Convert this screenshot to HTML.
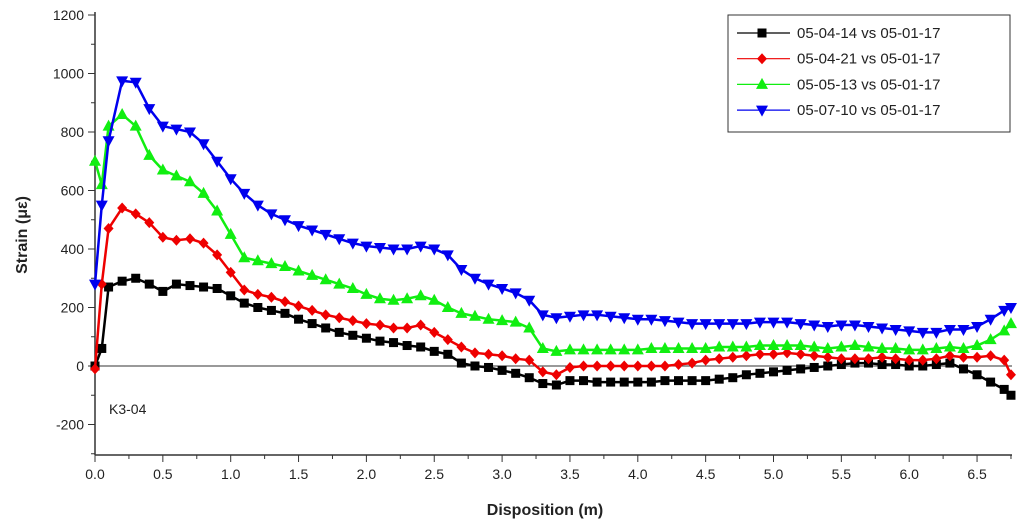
<!DOCTYPE html>
<html><head><meta charset="utf-8"><style>
body{margin:0;background:#fff;}
svg{display:block;font-family:"Liberation Sans",sans-serif;}
</style></head><body>
<svg id="chart" width="1024" height="526" viewBox="0 0 1024 526"></svg>
<script>
const xs=[0,0.05];for(let i=1;i<=67;i++)xs.push(+(i/10).toFixed(1));xs.push(6.75);
const black=[0,60,270,290,300,280,255,280,275,270,265,240,215,200,190,180,160,145,130,115,105,95,85,80,70,65,50,40,10,0,-5,-15,-25,-40,-60,-65,-50,-50,-55,-55,-55,-55,-55,-50,-50,-50,-50,-45,-40,-30,-25,-20,-15,-10,-5,0,5,10,10,5,5,0,0,5,10,-10,-30,-55,-80,-100];
const red=[-10,280,470,540,520,490,440,430,435,420,380,320,260,245,235,220,205,190,175,165,155,145,140,130,130,140,115,90,65,45,40,35,25,20,-20,-30,-5,0,0,0,0,0,0,0,5,10,20,25,30,35,40,40,45,40,35,30,25,25,25,30,25,20,20,25,35,30,30,35,20,-30];
const green=[700,620,820,860,820,720,670,650,630,590,530,450,370,360,350,340,325,310,295,280,265,245,230,225,230,240,225,200,180,170,160,155,150,130,60,50,55,55,55,55,55,55,60,60,60,60,60,65,65,65,70,70,70,70,65,60,65,70,65,60,60,55,55,60,65,60,70,90,120,145];
const blue=[280,550,770,975,970,880,820,810,800,760,700,640,590,550,520,500,480,465,450,435,420,410,405,400,400,410,400,380,330,300,280,265,250,225,175,165,170,175,175,170,165,160,160,155,150,145,145,145,145,145,150,150,150,145,140,135,140,140,135,130,125,120,115,115,125,125,135,160,190,200];
const xTicks=[0,0.5,1,1.5,2,2.5,3,3.5,4,4.5,5,5.5,6,6.5];
const yTicks=[-200,0,200,400,600,800,1000,1200];
const labels=["05-04-14 vs 05-01-17","05-04-21 vs 05-01-17","05-05-13 vs 05-01-17","05-07-10 vs 05-01-17"];
const X=v=>95+v*135.7, Y=v=>366-v*0.2925;
const svg=document.getElementById('chart');const NS='http://www.w3.org/2000/svg';
function mk(t,a,p){const e=document.createElementNS(NS,t);for(const k in a)e.setAttribute(k,a[k]);(p||svg).appendChild(e);return e;}
let g=mk('g',{});


mk('line',{x1:95,y1:12,x2:95,y2:455,stroke:'#333','stroke-width':1.5},g);
mk('line',{x1:95,y1:455,x2:1012,y2:455,stroke:'#333','stroke-width':1.5},g);
mk('line',{x1:95,y1:Y(0),x2:1012,y2:Y(0),stroke:'#333','stroke-width':1},g);
for(let v=-300;v<=1200;v+=100){mk('line',{x1:v%200==0?88:91,y1:Y(v),x2:95,y2:Y(v),stroke:'#333'},g);}
yTicks.forEach(v=>{const t=mk('text',{x:84,y:Y(v)+5,'text-anchor':'end','font-size':14,fill:'#222'},g);t.textContent=v;
});
for(let v=0;v<=6.75;v+=0.25){mk('line',{x1:X(v),y1:455,x2:X(v),y2:Math.abs(v*2-Math.round(v*2))<1e-6?462:459,stroke:'#333'},g);}
xTicks.forEach(v=>{const t=mk('text',{x:X(v),y:479,'text-anchor':'middle','font-size':14,fill:'#222'},g);t.textContent=v.toFixed(1);
});
let t=mk('text',{x:545,y:515,'text-anchor':'middle','font-size':16,'font-weight':'bold',fill:'#222'});t.textContent='Disposition (m)';

t=mk('text',{x:0,y:0,transform:'translate(27,235) rotate(-90)','text-anchor':'middle','font-size':16,'font-weight':'bold',fill:'#222'});t.textContent='Strain (με)';

t=mk('text',{x:109,y:414,'font-size':14,fill:'#222'});t.textContent='K3-04';

function marker(type,cx,cy,col,p){
 if(type==0)return mk('rect',{x:cx-4.5,y:cy-4.5,width:9,height:9,fill:col},p);
 if(type==1)return mk('polygon',{points:`${cx},${cy-5.5} ${cx+5},${cy} ${cx},${cy+5.5} ${cx-5},${cy}`,fill:col},p);
 if(type==2)return mk('polygon',{points:`${cx},${cy-6.5} ${cx+6},${cy+4.5} ${cx-6},${cy+4.5}`,fill:col},p);
 return mk('polygon',{points:`${cx-6},${cy-4.5} ${cx+6},${cy-4.5} ${cx},${cy+6.5}`,fill:col},p);}
const series=[black,red,green,blue],cols=['#000','#e00','#1e1','#00e'];
const names=['series-05-04-14','series-05-04-21','series-05-05-13','series-05-07-10'];
series.forEach((s,k)=>{const sg=mk('g',{});
 
 
 mk('polyline',{points:s.map((v,i)=>X(xs[i])+','+Y(v)).join(' '),fill:'none',stroke:cols[k],'stroke-width':2.5},sg);
 s.forEach((v,i)=>{const m=marker(k,X(xs[i]),Y(v),cols[k],sg);
  
  });});
const lg=mk('g',{});


mk('rect',{x:728,y:15,width:282,height:117,fill:'#fff',stroke:'#333'},lg);
labels.forEach((l,k)=>{const y=33+k*25.7;const eg=mk('g',{},lg);
 
 
 mk('line',{x1:737,y1:y,x2:790,y2:y,stroke:cols[k],'stroke-width':1.2},eg);
 marker(k,762,y,cols[k],eg);
 const tt=mk('text',{x:797,y:y+5,'font-size':15,fill:'#222'},eg);tt.textContent=l;});
</script>
</body></html>
